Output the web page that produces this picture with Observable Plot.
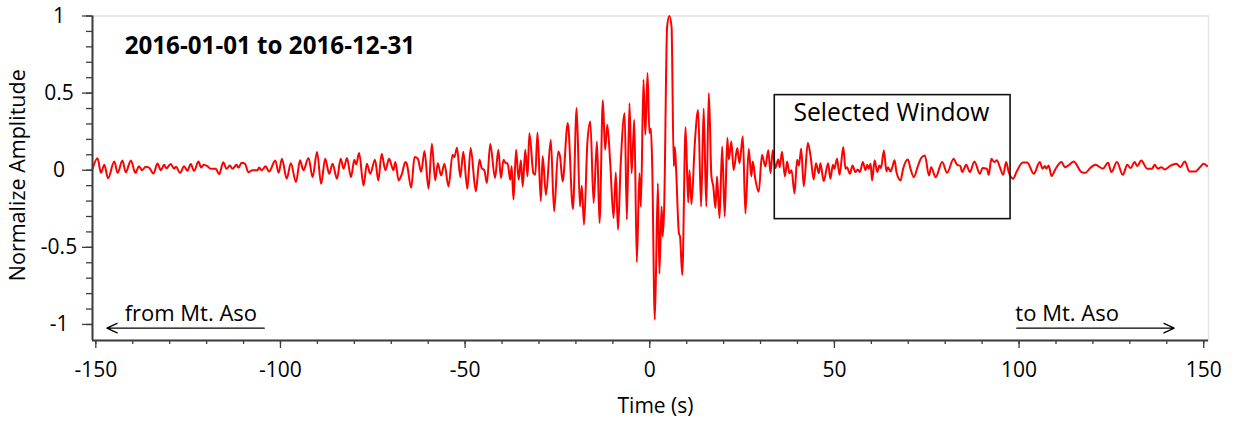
<!DOCTYPE html>
<html>
<head>
<meta charset="utf-8">
<script src="https://cdn.jsdelivr.net/npm/d3@7"></script>
<script src="https://cdn.jsdelivr.net/npm/@observablehq/plot@0.6"></script>
<style>
  html, body { margin: 0; padding: 0; background: #fff; }
  svg { display: block; }
</style>
</head>
<body>
<div id="chart"></div>
<script>
// ---- Data ----
const time = [
  -150.9,-149.55,-148.6,-147.7,-146.7,-145.0,-144.1,-142.8,-141.9,-140.5,-139.3,-138.3,-137.5,-136.5,-135.6,-134.4,-133.3,-132.4,-131.5,-130.9,
  -129.7,-128.8,-128.3,-127.2,-126.1,-125.2,-124.3,-123.4,-122.2,-121.5,-120.8,-119.8,-118.9,-117.5,-116.6,-115.5,-114.6,-113.7,-113.0,-111.9,
  -111.4,-110.5,-109.6,-108.7,-107.6,-106.2,-105.8,-105.1,-104.0,-103.1,-101.4,-100.5,
  -99.6,-98.3,-97.2,-95.8,-94.7,-93.8,-92.4,-91.3,-90.1,-89.0,-87.9,-86.8,-85.9,-84.7,-83.7,-82.9,-82.0,-80.9,-80.0,-79.5,
  -78.7,-77.5,-76.6,-75.7,-74.4,-73.5,-72.6,-71.6,-70.6,-69.4,-68.9,-68.0,-67.1,-66.2,-65.8,-64.6,-63.7,-62.8,-61.9,-61.0,
  -59.9,-59.0,-58.1,-57.4,-56.5,-55.6,-54.5,-53.4,-52.9,-52.2,-51.3,-50.5,-49.4,
  -48.5,-47.1,-46.1,-45.5,-44.8,-44.1,-43.2,-41.9,-41.0,-40.3,-39.6,-39.0,-38.5,-37.8,-37.4,-36.9,-36.2,-35.5,-34.9,-34.4,
  -33.7,-33.1,-32.6,-31.5,-31.0,-30.4,-29.5,-29.0,-28.1,-26.8,-25.9,-24.8,-24.3,-23.6,-22.2,-20.8,-19.8,-18.9,-18.4,-17.8,
  -16.9,-16.1,-15.2,-14.3,-13.6,-12.7,-12.1,-11.5,-10.7,-9.8,-9.2,-8.6,-7.9,-6.8,-6.2,-5.5,-4.9,-4.2,-3.5,-2.8,
  -2.4,-1.7,-1.2,-0.6,
  -0.1,0.3,0.65,1.37,2.2,2.6,3.2,3.5,3.9,4.7,5.3,5.9,6.5,6.8,7.1,7.9,8.2,8.8,9.7,10.4,
  10.75,11.3,12.2,13.1,13.9,14.6,15.3,16.0,16.7,17.2,17.8,18.2,18.9,19.6,20.3,21.0,21.4,22.1,22.7,23.7,
  24.3,25.2,25.9,26.8,27.5,27.9,28.6,29.5,30.4,31.3,32.1,32.7,33.3,34.0,34.8,35.2,35.8,36.6,37.2,37.8,
  38.4,39.2,39.9,40.4,41.0,41.7,42.8,43.5,44.4,45.0,45.8,46.2,47.1,48.3,48.9,
  49.6,50.0,50.7,51.4,52.4,53.0,53.4,54.2,54.9,55.7,56.3,56.9,57.7,58.4,58.9,59.3,59.8,60.2,60.9,61.6,
  62.2,62.6,63.4,64.1,64.5,65.2,65.6,66.3,66.8,67.9,68.6,69.9,70.6,71.5,72.6,73.5,74.5,75.6,76.2,77.4,
  79.2,80.5,82.3,83.2,84.1,84.6,85.7,86.7,87.9,89.4,90.1,91.3,91.8,92.5,93.3,94.0,94.8,95.7,96.5,97.2,
  98.4,99.3,
  101.0,102.2,104.0,105.6,106.4,107.0,107.4,108.0,108.8,109.9,111.5,112.4,113.3,114.8,116.9,118.0,119.1,120.7,122.7,124.1,
  125.0,126.5,128.1,129.3,130.2,131.3,132.0,133.1,134.7,136.0,136.7,137.6,138.5,139.5,141.0,142.6,143.7,144.9,146.1,147.8,
  149.0,150.0,150.9
];
const amplitude = [
  0.009,0.078,-0.017,0.035,-0.052,0.056,-0.017,0.063,-0.013,0.063,-0.017,0.026,0.0,0.022,0.017,-0.022,0.043,0.0,0.035,0.013,
  0.041,0.009,0.022,-0.017,0.026,-0.004,0.041,-0.004,0.056,0.017,0.035,0.026,0.009,0.009,-0.026,0.052,0.009,0.030,0.009,0.035,
  0.017,0.048,0.041,-0.013,0.0,0.0,0.017,0.0,0.026,-0.009,0.063,-0.017,
  0.074,-0.055,0.046,-0.077,0.064,0.0,0.079,-0.045,0.118,-0.088,0.074,-0.023,0.042,-0.055,0.074,0.010,0.079,-0.045,0.068,0.038,
  0.111,-0.099,0.042,-0.023,0.068,-0.066,0.107,0.0,0.074,0.0,0.053,-0.066,-0.023,0.053,0.042,-0.114,0.085,0.074,-0.01,0.124,
  -0.12,0.172,-0.066,0.046,-0.034,0.042,-0.105,0.10,0.085,0.146,-0.045,0.12,-0.12,
  0.144,-0.137,0.068,0.013,0.0,-0.083,0.17,-0.05,0.133,-0.05,0.068,0.046,0.046,-0.062,0.025,-0.19,0.133,-0.062,0.064,-0.105,
  0.133,-0.04,0.24,-0.02,-0.03,0.245,-0.2,0.09,-0.16,0.198,-0.267,0.122,0.09,-0.073,0.306,-0.252,0.403,-0.234,-0.1,-0.353,
  0.176,0.316,-0.213,0.187,-0.342,0.453,0.133,0.295,0.046,-0.31,-0.015,-0.386,0.025,0.37,-0.32,0.435,-0.02,0.327,-0.595,-0.02,
  -0.235,0.587,0.23,0.63,
  0.24,0.27,0.046,-0.97,-0.085,-0.67,-0.235,-0.43,-0.245,0.93,1.0,0.93,0.025,0.15,0.025,-0.41,-0.43,-0.68,0.28,-0.21,
  0.0,-0.22,0.176,0.39,-0.235,0.40,-0.235,0.50,-0.04,-0.105,-0.245,-0.04,-0.31,0.154,-0.30,0.21,0.07,0.187,0.0,0.144,
  0.046,0.22,-0.28,0.14,-0.04,0.057,-0.06,-0.14,0.1,0.025,0.13,-0.02,0.13,0.015,0.07,0.02,0.12,-0.04,0.057,-0.02,
  0.0,-0.15,0.068,0.03,0.14,-0.105,0.176,0.10,-0.06,0.046,-0.02,0.046,-0.07,0.046,-0.055,
  0.035,0.01,0.074,-0.03,0.15,0.01,0.02,-0.023,0.03,-0.012,0.005,-0.012,0.053,0.0,0.035,0.01,0.042,-0.066,0.064,-0.012,
  0.03,0.014,0.128,-0.008,0.02,-0.008,0.014,0.064,-0.012,-0.066,0.01,0.07,0.01,-0.045,0.027,0.079,0.096,-0.034,0.02,-0.045,
  0.053,-0.016,0.074,0.036,0.027,-0.012,0.035,-0.012,0.057,-0.023,0.014,0.01,-0.03,0.074,0.053,0.064,0.02,-0.03,0.053,-0.012,
  -0.055,-0.012,
  0.05,0.05,-0.023,0.053,0.01,0.027,0.01,0.03,-0.038,0.01,0.053,0.02,0.03,0.057,-0.012,-0.017,0.01,0.035,0.01,0.048,
  -0.012,0.053,-0.03,0.035,0.014,0.053,0.027,0.063,0.01,0.01,0.035,0.01,0.02,0.005,0.03,0.042,0.02,0.057,-0.008,-0.008,
  0.02,0.042,0.027
];

const xTickValues = [-150, -100, -50, 0, 50, 100, 150];
const xMinorTickValues = [-150,-140,-130,-120,-110,-100,-90,-80,-70,-60,-50,-40,-30,-20,-10,0,10,20,30,40,50,60,70,80,90,100,110,120,130,140,150];
const yTickValues = [-1, -0.5, 0, 0.5, 1];
const yMinorTickValues = [-1,-0.9,-0.8,-0.7,-0.6,-0.5,-0.4,-0.3,-0.2,-0.1,0,0.1,0.2,0.3,0.4,0.5,0.6,0.7,0.8,0.9,1];

const xDomain = [-150.9, 151.3];
const yDomain = [-1.104, 1];

// Selected window box (time range and amplitude range)
const windowTime = [33.85, 97.7];
const windowAmp = [-0.317, 0.487];

// Annotations
const titleText = "2016-01-01 to 2016-12-31";
const titlePos = [-142.2, 0.803];
const windowLabel = "Selected Window";
const windowLabelPos = [38.9, 0.373];
const arrowLabels = ["from Mt. Aso", "to Mt. Aso"];
const arrowLabelTime = [-142.2, 99.0];
const arrowLabelAmp = -0.935;
const arrowStart = [-104.4, 99.4];
const arrowEnd = [-147, 142];
const arrowAmp = -1.024;

// ---- Build ----
const series = time.map((t, i) => ({t, v: amplitude[i]}));
const arrows = arrowStart.map((s, i) => ({x1: s, x2: arrowEnd[i], y: arrowAmp, label: arrowLabels[i], lx: arrowLabelTime[i]}));
const box = [{x1: windowTime[0], x2: windowTime[1], y1: windowAmp[0], y2: windowAmp[1]}];
const fmt = d => String(d);
const axisColor = "#3c3c3c";

const chart = Plot.plot({
  width: 1235,
  height: 421,
  marginLeft: 92,
  marginRight: 27,
  marginTop: 15.5,
  marginBottom: 81,
  style: {fontFamily: "'Open Sans', sans-serif", fontSize: "21px", color: "#000", background: "#fff", overflow: "visible"},
  x: {domain: xDomain},
  y: {domain: yDomain},
  marks: [
    Plot.frame({stroke: "#e4e4e4", strokeWidth: 1.5}),
    Plot.line(series, {x: "t", y: "v", stroke: "#ff0000", strokeWidth: 2, curve: "monotone-x"}),
    Plot.rect(box, {x1: "x1", x2: "x2", y1: "y1", y2: "y2", fill: "none", stroke: "#111", strokeWidth: 1.6}),
    // axis lines
    Plot.ruleX([xDomain[0]], {stroke: axisColor, strokeWidth: 2}),
    Plot.ruleY([yDomain[0]], {stroke: axisColor, strokeWidth: 2}),
    // y axis
    Plot.axisY({ticks: yMinorTickValues, tickSize: 6, tickFormat: () => "", label: null, stroke: axisColor, strokeWidth: 1.3}),
    Plot.axisY({ticks: yTickValues, tickSize: 10, tickPadding: 23.5, textAnchor: "middle", tickFormat: fmt, label: null,
                stroke: axisColor, strokeWidth: 1.3, fill: "#000", fontSize: 21}),
    // x axis
    Plot.axisX({ticks: xMinorTickValues, tickSize: 4, tickFormat: () => "", label: null, stroke: axisColor, strokeWidth: 1.3}),
    Plot.axisX({ticks: xTickValues, tickSize: 8, tickPadding: 14, tickFormat: fmt, label: null,
                stroke: axisColor, strokeWidth: 1.3, fill: "#000", fontSize: 21}),
    // axis titles
    Plot.text(["Time (s)"], {text: d => d, frameAnchor: "bottom", textAnchor: "middle", lineAnchor: "middle", dy: 66, dx: 5, fontSize: 21, fill: "#000"}),
    Plot.text(["Normalize Amplitude"], {text: d => d, frameAnchor: "left", textAnchor: "middle", lineAnchor: "middle", rotate: -90, dx: -74, dy: -3, fontSize: 21.5, fill: "#000"}),
    // annotations
    Plot.text([titleText], {text: d => d, x: () => titlePos[0], y: () => titlePos[1], textAnchor: "start", lineAnchor: "middle", fontWeight: "bold", fontSize: 24.2, fill: "#000"}),
    Plot.text([windowLabel], {text: d => d, x: () => windowLabelPos[0], y: () => windowLabelPos[1], textAnchor: "start", lineAnchor: "middle", fontSize: 24.6, fill: "#000"}),
    Plot.arrow(arrows, {x1: "x1", x2: "x2", y1: "y", y2: "y", stroke: "#000", strokeWidth: 1.3, headLength: 13, headAngle: 50}),
    Plot.text(arrows, {text: "label", x: "lx", y: () => arrowLabelAmp, textAnchor: "start", lineAnchor: "middle", fontSize: 22, fill: "#000"})
  ]
});
document.getElementById("chart").appendChild(chart);
</script>
</body>
</html>
